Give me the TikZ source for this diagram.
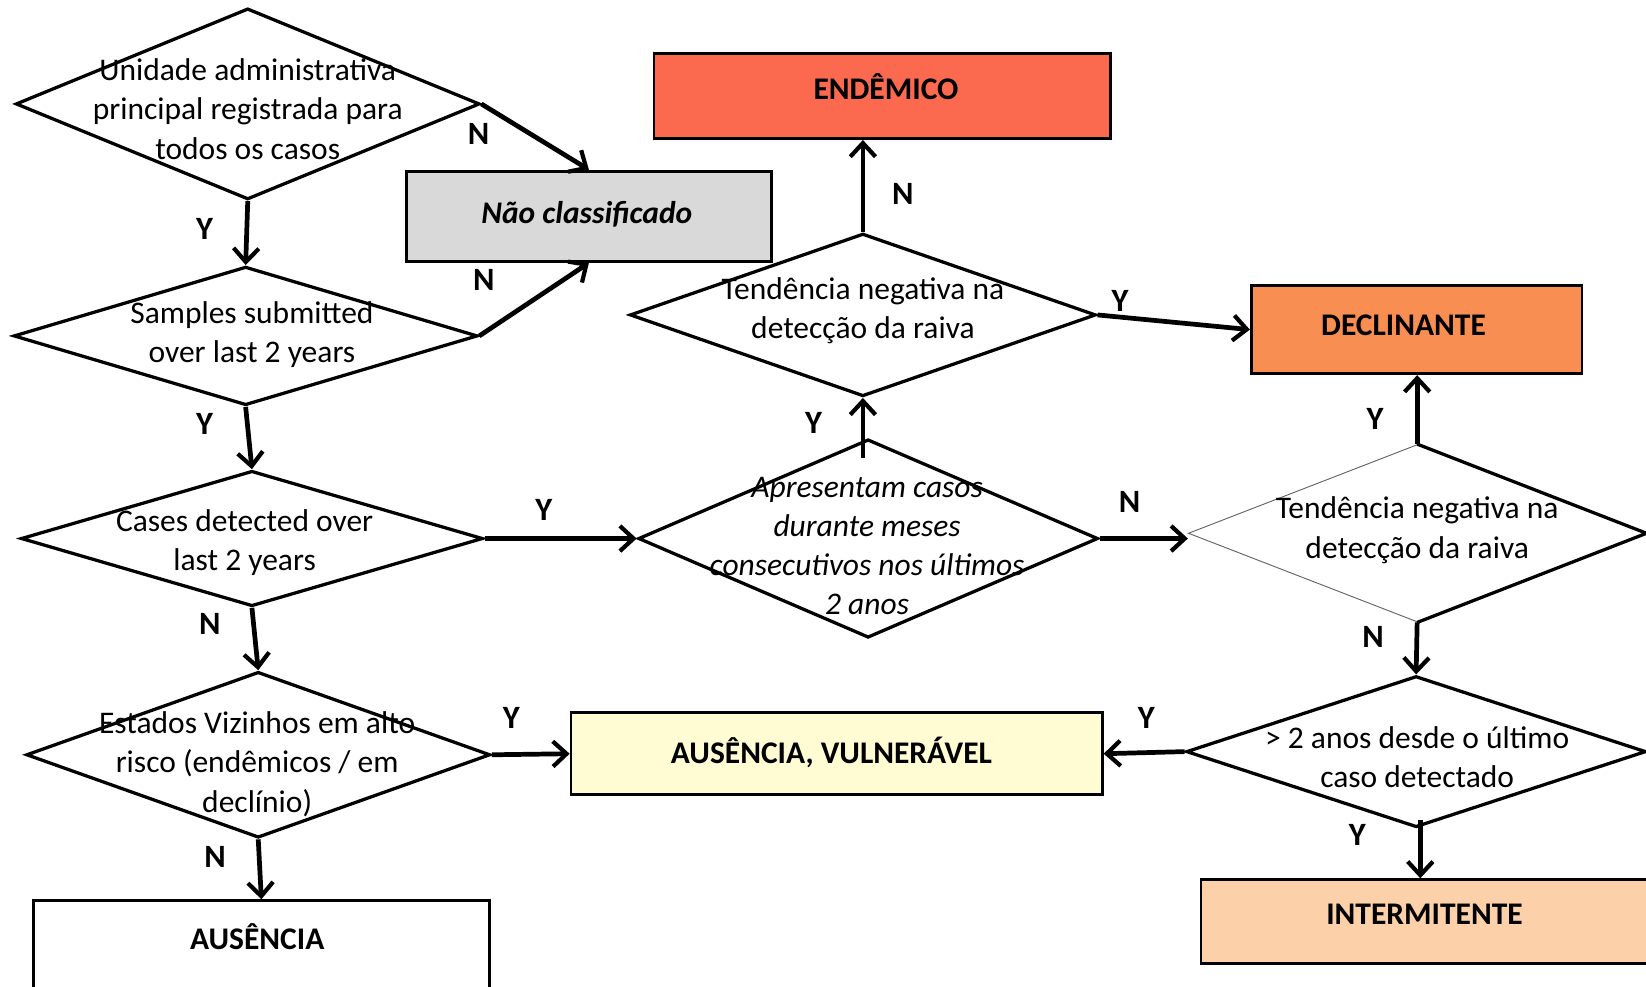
\documentclass[tikz,border=0pt]{standalone}
\usepackage{fontspec}
\setmainfont{Carlito}
\usetikzlibrary{shapes.geometric,arrows.meta,calc}
\definecolor{cEnd}{HTML}{FB6A4F}
\definecolor{cDecl}{HTML}{F98E52}
\definecolor{cInter}{HTML}{FCD0A8}
\definecolor{cVuln}{HTML}{FFFBD3}
\definecolor{cNao}{HTML}{D9D9D9}
\begin{document}
\begin{tikzpicture}[x=1pt,y=-1pt,
  dia/.style={draw, shape=diamond, line width=3.1pt, inner sep=0pt, line join=miter},
  diaedge/.style={line width=3.1pt, line join=miter},
  thinedge/.style={draw=black!60, line width=0.9pt},
  dtext/.style={align=center, inner sep=0pt, font=\fontsize{30}{37.5}\selectfont},
  box/.style={draw, line width=2.7pt, inner sep=0pt},
  btext/.style={inner sep=0pt, font=\fontsize{30}{36}\selectfont\bfseries},
  lab/.style={inner sep=0pt, font=\fontsize{31}{34}\selectfont\bfseries},
  arr/.style={line width=4.5pt, -{Straight Barb[length=13pt,width=24pt,line width=4pt]}}
]
\useasboundingbox (0,0) rectangle (1568,940);
\clip (0,0) rectangle (1568,940);
\fill[white] (0,0) rectangle (1568,940);

% result boxes
\node[box, fill=cNao, minimum width=348pt, minimum height=86pt] (nao) at (561,206) {};
\node[btext, font=\fontsize{30}{36}\selectfont\bfseries\itshape] (naotxt) at (559,204) {Não classificado};
\node[box, fill=cEnd, minimum width=435pt, minimum height=81pt] (end) at (840.5,91.5) {};
\node[btext] (endtxt) at (844,83) {ENDÊMICO};
\node[box, fill=cDecl, minimum width=315pt, minimum height=84pt] (decl) at (1349.5,314) {};
\node[btext] (decltxt) at (1337,310) {DECLINANTE};
\node[box, fill=cVuln, minimum width=506pt, minimum height=78pt] (vuln) at (797,718) {};
\node[btext] (vulntxt) at (792,717) {AUSÊNCIA, VULNERÁVEL};
\node[box, fill=cInter, minimum width=426pt, minimum height=80pt] (inter) at (1357,878) {};
\node[btext] (intertxt) at (1357,871) {INTERMITENTE};
\node[box, fill=white, minimum width=434pt, minimum height=102pt] (aus) at (249,909) {};
\node[btext] (austxt) at (245,892) {AUSÊNCIA};

% decision diamonds
\node[dia, minimum width=442pt, minimum height=182pt] (d1) at (236,99) {};
\node[dtext] (d1t) at (236,104) {Unidade administrativa\\principal registrada para\\todos os casos};
\node[dia, minimum width=442pt, minimum height=132pt] (d2) at (234,320) {};
\node[dtext] (d2t) at (240,319) {Samples submitted\\over last 2 years};
\node[dia, minimum width=440pt, minimum height=129pt] (d3) at (240,513) {};
\node[dtext] (d3t) at (233,517) {Cases detected over\\last 2 years};
\node[dia, minimum width=442pt, minimum height=158pt] (d4) at (246,719) {};
\node[dtext] (d4t) at (245,728) {Estados Vizinhos em alto\\risco (endêmicos / em\\declínio)};
\node[dia, minimum width=438pt, minimum height=189pt] (d5) at (827,513) {};
\node[dtext, font=\fontsize{30}{37}\selectfont\itshape] (d5t) at (826,520) {Apresentam casos\\durante meses\\consecutivos nos últimos\\2 anos};
\node[dia, minimum width=444pt, minimum height=155pt] (d6) at (822,300) {};
\node[dtext] (d6t) at (822,296) {Tendência negativa na\\detecção da raiva};
\node[dia, thinedge, minimum width=436pt, minimum height=169pt] (d7) at (1350,508) {};
\draw[diaedge] (d7.north) -- (d7.east) -- (d7.south);
\node[dtext] (d7t) at (1350,505) {Tendência negativa na\\detecção da raiva};
\node[dia, minimum width=438pt, minimum height=144pt] (d8) at (1349,716) {};
\node[dtext] (d8t) at (1350,721) {> 2 anos desde o último\\caso detectado};

% connectors
\draw[arr] (d1.east) -- (nao.north);
\draw[arr] (d2.east) -- (nao.south);
\draw[arr] (d1.south) -- (d2.north);
\draw[arr] (d2.south) -- (d3.north);
\draw[arr] (d3.south) -- (d4.north);
\draw[arr] (d4.south) -- (aus.north);
\draw[arr] (d4.east) -- (vuln.west);
\draw[arr] (d3.east) -- (d5.west);
\coordinate (d5up) at ($(d5.north)+(-5,19)$);
\draw[arr] (d5up) -- (d5up |- d6.south);
\draw[arr] (d6.north) -- (d6.north |- end.south);
\draw[arr] (d6.east) -- (decl.west);
\draw[arr] (d5.east) -- (d5.east -| d7.west);
\draw[arr] (d7.north) -- (d7.north |- decl.south);
\draw[arr] (d7.south) -- (d8.north);
\draw[arr] (d8.west) -- (vuln.east);
\coordinate (d8low) at ($(d8.south)+(4,-8)$);
\draw[arr] (d8low) -- (d8low |- inter.north);

% Y / N labels
\node[lab] (l1) at (456,128) {N};
\node[lab] (l2) at (461,267) {N};
\node[lab] (l3) at (195,218) {Y};
\node[lab] (l4) at (195,404) {Y};
\node[lab] (l5) at (200,594) {N};
\node[lab] (l6) at (205,816) {N};
\node[lab] (l7) at (487,684) {Y};
\node[lab] (l8) at (518,486) {Y};
\node[lab] (l9) at (775,403) {Y};
\node[lab] (l10) at (860,185) {N};
\node[lab] (l11) at (1067,287) {Y};
\node[lab] (l12) at (1076,478) {N};
\node[lab] (l13) at (1310,399) {Y};
\node[lab] (l14) at (1308,607) {N};
\node[lab] (l15) at (1092,684) {Y};
\node[lab] (l16) at (1293,795) {Y};
\end{tikzpicture}
\end{document}
